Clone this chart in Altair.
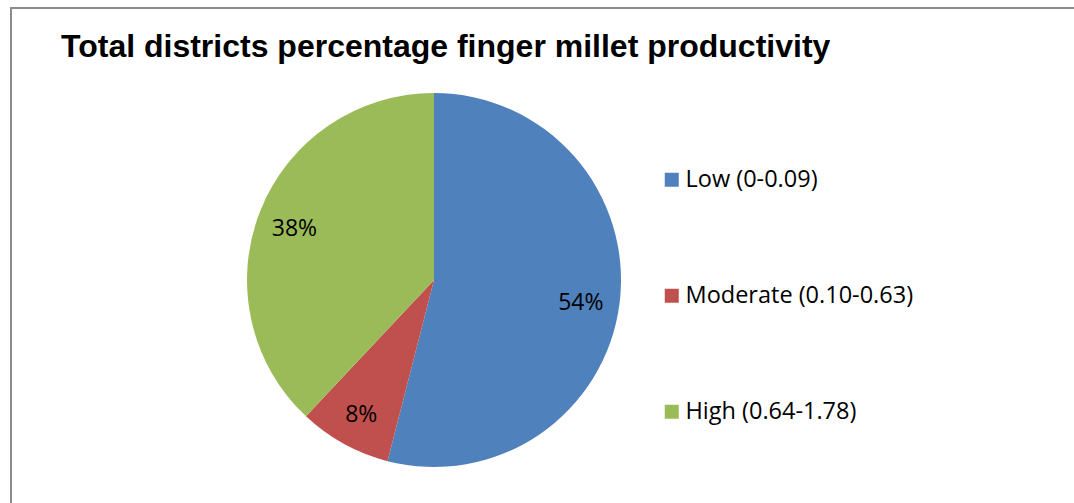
import altair as alt
import pandas as pd

title_text = "Total districts percentage finger millet productivity"
categories = ["Low (0-0.09)", "Moderate (0.10-0.63)", "High (0.64-1.78)"]
shares = [54, 8, 38]
labels = ["54%", "8%", "38%"]
colors = ["#4F81BD", "#C0504D", "#9BBB59"]

df = pd.DataFrame({"category": categories, "share": shares, "label": labels, "order": [0, 1, 2]})
one = pd.DataFrame({"t": [title_text]})

cx, cy = 434, 280

base = alt.Chart(df).encode(
    theta=alt.Theta("share:Q", stack=True),
    order=alt.Order("order:Q"),
)

pie = base.mark_arc(outerRadius=187).encode(
    x=alt.value(cx),
    y=alt.value(cy),
    color=alt.Color(
        "category:N",
        scale=alt.Scale(domain=categories, range=colors),
        sort=categories,
        legend=alt.Legend(
            title=None,
            orient="none",
            legendX=660,
            legendY=168,
            symbolType="square",
            symbolSize=196,
            symbolStrokeWidth=0,
            labelFontSize=23.5,
            labelFont="Open Sans",
            labelColor="black",
            labelLimit=400,
            rowPadding=91,
            labelOffset=2,
        ),
    ),
)

text = base.mark_text(radius=149, fontSize=23, font="Open Sans", color="black").encode(
    x=alt.value(cx - 1),
    y=alt.value(cy + 4),
    text="label:N",
)

left_border = alt.Chart(one).mark_rule(color="#8c8c8c", strokeWidth=2).encode(
    x=alt.value(11), y=alt.value(7), y2=alt.value(503)
)
top_border = alt.Chart(one).mark_rule(color="#8c8c8c", strokeWidth=2).encode(
    x=alt.value(10), x2=alt.value(1074), y=alt.value(8)
)

title = alt.Chart(one).mark_text(
    align="left", baseline="alphabetic", fontSize=32, fontWeight="bold",
    font="Liberation Sans", color="black"
).encode(text="t:N", x=alt.value(61), y=alt.value(57))

chart = alt.layer(pie, text, left_border, top_border, title).properties(
    width=1074, height=503, padding=0, autosize=alt.AutoSizeParams(type="none"),
    background="white",
).configure_view(stroke=None)

chart.save("out.html", embed_options={"renderer": "svg", "actions": False})
